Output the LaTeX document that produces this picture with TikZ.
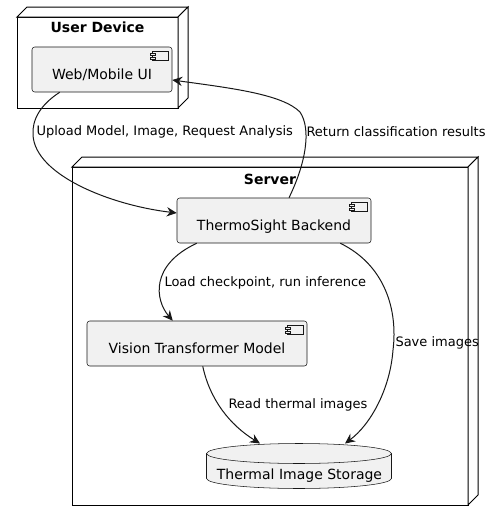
\documentclass[tikz,border=0pt]{standalone}
\usepackage{fontspec}
\setmainfont{DejaVu Sans}
\usetikzlibrary{calc}
\usetikzlibrary{arrows.meta}
\usepackage{xcolor}
\definecolor{compfill}{HTML}{F1F1F1}
\definecolor{edgecol}{HTML}{181818}

% 3D device box: front face corners x1,y1,x2,y2
\newcommand{\devbox}[4]{%
  \draw[fill=white] (#1,#2) rectangle (#3,#4);
  \draw[fill=white] (#1,#2) -- (#1+10,#2-10) -- (#3+10,#2-10) -- (#3,#2) -- cycle;
  \draw[fill=white] (#3,#2) -- (#3+10,#2-10) -- (#3+10,#4-10) -- (#3,#4) -- cycle;
}
% small component icon in the top right corner of a node
\newcommand{\compicon}[1]{%
  \draw[edgecol,line width=0.4pt,fill=compfill] ($(#1.north east)+(-20,5)$) rectangle +(16,9);
  \draw[edgecol,line width=0.4pt,fill=compfill] ($(#1.north east)+(-22,7)$) rectangle +(5,2);
  \draw[edgecol,line width=0.4pt,fill=compfill] ($(#1.north east)+(-22,11)$) rectangle +(5,2);
}

\begin{document}
\begin{tikzpicture}[x=0.75pt,y=-0.75pt,line width=0.75pt,
    comp/.style={draw=edgecol,line width=0.4pt,fill=compfill,rounded corners=2pt,
      minimum height=33.75pt,text height=14.4pt,text depth=0pt,inner sep=0pt,
      font=\fontsize{10.5}{12}\selectfont},
    title/.style={font=\fontsize{10.5}{12}\selectfont\bfseries},
    lbl/.style={anchor=west,inner sep=0pt,font=\fontsize{9.75}{11}\selectfont},
    flow/.style={draw=edgecol,-{Stealth[length=7.5pt,width=7pt,inset=2.5pt]}}]
    \useasboundingbox (0,0) rectangle (494,521);

    \devbox{72}{167}{468}{505}
    \devbox{17}{17}{178}{108}
    \node[title] (tserver) at (270,179) {Server};
    \node[title] (tdevice) at (97.5,27) {User Device};

    \node[comp,minimum width=105pt] (ui) at (102,69.5) {Web/Mobile UI};
    \node[comp,minimum width=145.5pt] (backend) at (274,220.5) {ThermoSight Backend};
    \node[comp,minimum width=165pt] (vit) at (197,343.5) {Vision Transformer Model};
    \compicon{ui}
    \compicon{backend}
    \compicon{vit}

    % database cylinder
    \node[minimum width=138.75pt,minimum height=33.75pt,inner sep=0pt] (storage) at (299.5,466.5) {};
    \draw[edgecol,line width=0.4pt,fill=compfill] (storage.north west) ++(0,10)
        -- ++(0,25) arc[start angle=180,end angle=360,x radius=92.5,y radius=-10]
        -- ++(0,-25) arc[start angle=0,end angle=180,x radius=92.5,y radius=-10] -- cycle;
    \draw[edgecol,line width=0.4pt] (storage.north west) ++(0,10)
        arc[start angle=180,end angle=360,x radius=92.5,y radius=-10];
    \node[font=\fontsize{10.5}{12}\selectfont] (tstorage) at ($(storage.center)+(0,9.5)$) {Thermal Image Storage};

    % connectors
    \draw[flow] ($(ui.south west)+(28,0)$) .. controls (40,105) and (32,120) .. (33,135)
        .. controls (35,175) and (110,205) .. ($(backend.west)+(0,-7.5)$);
    \draw[flow] ($(backend.north)+(15,0)$) .. controls (305,165) and (312,130) .. (300,112)
        .. controls (282,94) and (230,88) .. ($(ui.east)+(0,10.5)$);
    \draw[flow] ($(backend.south west)+(20,0)$) .. controls (150,265) and (155,300) .. ($(vit.north west)+(86,0)$);
    \draw[flow] ($(backend.south east)+(-31,0)$) .. controls (385,265) and (398,310) .. (393,350)
        .. controls (390,390) and (370,425) .. ($(storage.north)+(45.5,0)$);
    \draw[flow] ($(vit.south west)+(116,0)$) .. controls (210,400) and (230,425) .. ($(storage.north)+(-39.5,0)$);

    \node[lbl] (lupload) at (36,132) {Upload Model, Image, Request Analysis};
    \node[lbl] (lreturn) at (306,132) {Return classification results};
    \node[lbl] (lload) at (164,283) {Load checkpoint, run inference};
    \node[lbl] (lsave) at (395,343) {Save images};
    \node[lbl] (lread) at (228,405) {Read thermal images};
\end{tikzpicture}
\end{document}
